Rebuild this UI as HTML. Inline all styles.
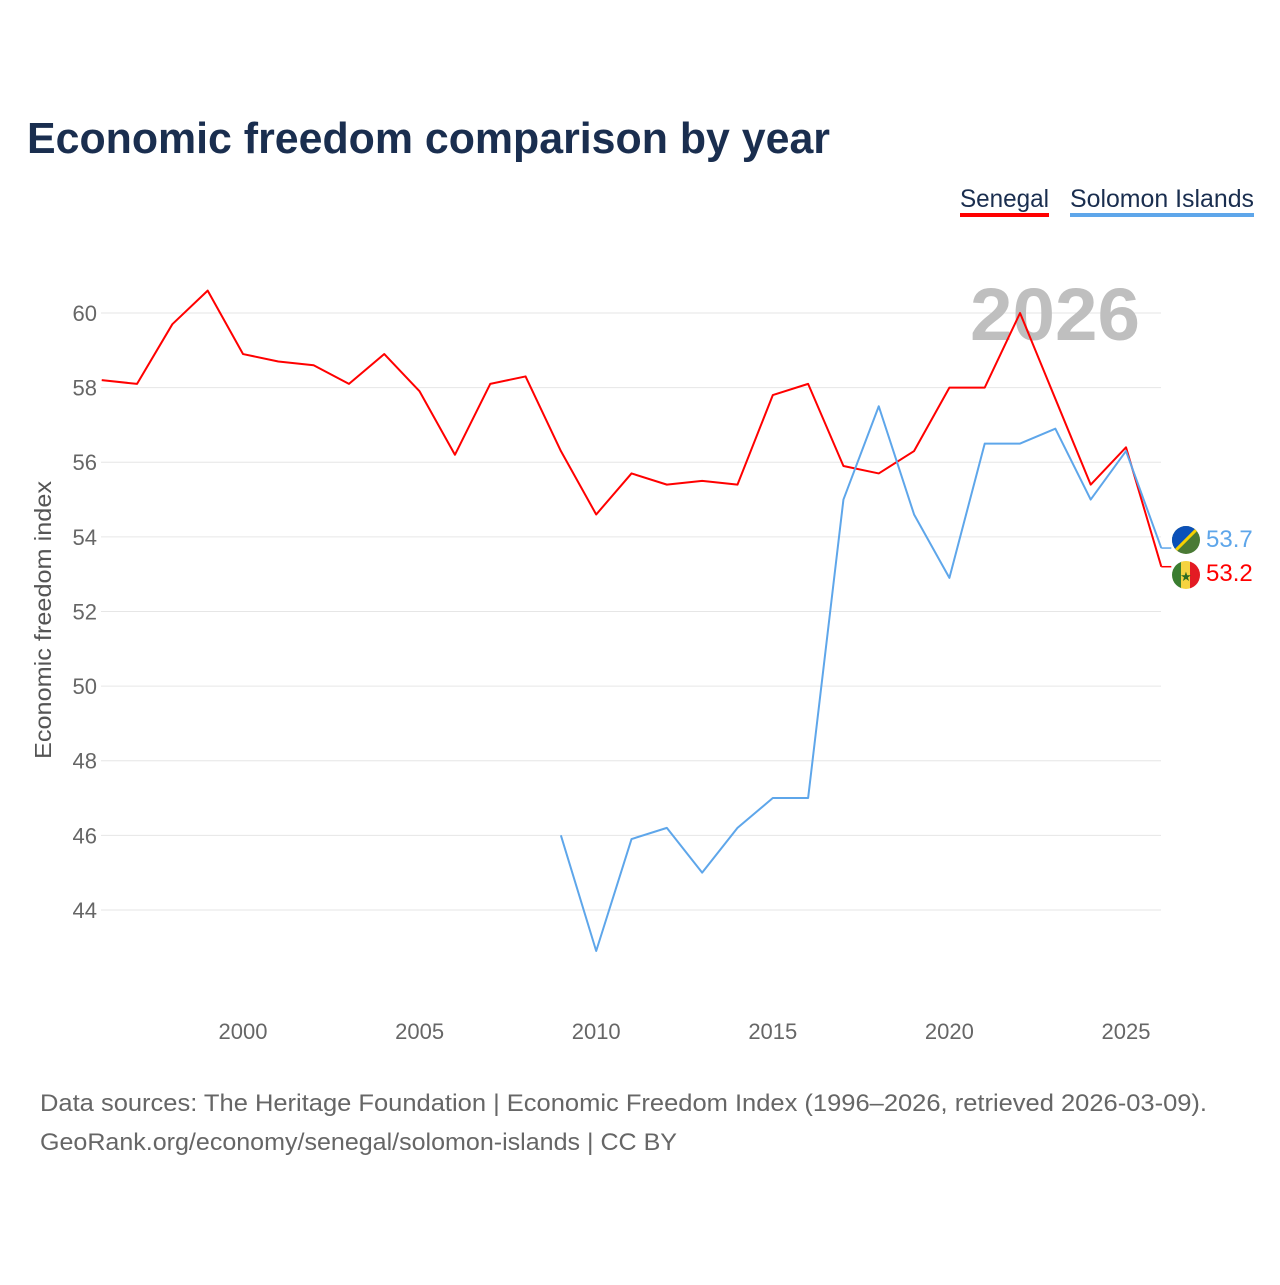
<!DOCTYPE html>
<html><head><meta charset="utf-8"><style>
body{margin:0;background:#fff;font-family:"Liberation Sans",sans-serif}
</style></head><body>
<svg width="1280" height="1280" viewBox="0 0 1280 1280" xmlns="http://www.w3.org/2000/svg">
<text x="27" y="153" font-size="44" font-weight="bold" fill="#1a2e4f" textLength="803" lengthAdjust="spacingAndGlyphs">Economic freedom comparison by year</text>
<g>
<text x="960" y="207" font-size="25" fill="#1a2e4f" textLength="89" lengthAdjust="spacingAndGlyphs">Senegal</text>
<rect x="960" y="213" width="89" height="4" fill="#ff0000"/>
<text x="1070" y="207" font-size="25" fill="#1a2e4f" textLength="184" lengthAdjust="spacingAndGlyphs">Solomon Islands</text>
<rect x="1070" y="213" width="184" height="4" fill="#5ea6ea"/>
</g>
<g id="grid"></g>
<text x="1055" y="340" font-size="74" font-weight="bold" fill="#bfbfbf" text-anchor="middle" textLength="170" lengthAdjust="spacingAndGlyphs">2026</text>
<g id="yticks"></g>
<g id="xticks"></g>
<text transform="translate(51,620) rotate(-90)" font-size="23" fill="#555" text-anchor="middle" textLength="278" lengthAdjust="spacingAndGlyphs">Economic freedom index</text>
<g id="series"></g>
<g>
<clipPath id="c1"><circle cx="1186" cy="540" r="14"/></clipPath>
<g clip-path="url(#c1)"><rect x="1172" y="526" width="28" height="28" fill="#4a7a35"/><polygon points="1172,526 1200,526 1172,554" fill="#0b50b8"/><line x1="1200" y1="526" x2="1172" y2="554" stroke="#f5d100" stroke-width="3"/></g>
</g>
<g>
<clipPath id="c2"><circle cx="1186" cy="575" r="14"/></clipPath>
<g clip-path="url(#c2)"><rect x="1172" y="561" width="10" height="28" fill="#3a7d30"/><rect x="1181" y="561" width="10" height="28" fill="#f5d340"/><rect x="1190" y="561" width="10" height="28" fill="#e31b23"/><text x="1186" y="581" font-size="13" text-anchor="middle" fill="#2c6b22">★</text></g>
</g>
<text x="1206" y="547" font-size="24" fill="#5ea6ea">53.7</text>
<text x="1206" y="581" font-size="24" fill="#ff0000">53.2</text>
<text x="40" y="1111" font-size="24" fill="#666" textLength="1167" lengthAdjust="spacingAndGlyphs">Data sources: The Heritage Foundation | Economic Freedom Index (1996–2026, retrieved 2026-03-09).</text>
<text x="40" y="1150" font-size="24" fill="#666" textLength="637" lengthAdjust="spacingAndGlyphs">GeoRank.org/economy/senegal/solomon-islands | CC BY</text>
</svg>
<script>
const years=[1996,1997,1998,1999,2000,2001,2002,2003,2004,2005,2006,2007,2008,2009,2010,2011,2012,2013,2014,2015,2016,2017,2018,2019,2020,2021,2022,2023,2024,2025,2026];
const senegal=[58.2,58.1,59.7,60.6,58.9,58.7,58.6,58.1,58.9,57.9,56.2,58.1,58.3,56.3,54.6,55.7,55.4,55.5,55.4,57.8,58.1,55.9,55.7,56.3,58.0,58.0,60.0,57.7,55.4,56.4,53.2];
const solomonYears=[2009,2010,2011,2012,2013,2014,2015,2016,2017,2018,2019,2020,2021,2022,2023,2024,2025,2026];
const solomon=[46.0,42.9,45.9,46.2,45.0,46.2,47.0,47.0,55.0,57.5,54.6,52.9,56.5,56.5,56.9,55.0,56.3,53.7];
const yTicks=[44,46,48,50,52,54,56,58,60];
const xTicks=[2000,2005,2010,2015,2020,2025];
const NS="http://www.w3.org/2000/svg";
const X=y=>243+(y-2000)*35.32;
const Y=v=>313+(60-v)*37.31;
function mk(tag,attrs,parent){const e=document.createElementNS(NS,tag);for(const k in attrs)e.setAttribute(k,attrs[k]);parent.appendChild(e);return e;}
const grid=document.getElementById('grid'),yt=document.getElementById('yticks'),xt=document.getElementById('xticks'),ser=document.getElementById('series');
yTicks.forEach(t=>{
 const l=mk('line',{x1:101,x2:1161,y1:Y(t),y2:Y(t),stroke:'#e6e6e6','stroke-width':1},grid);
 
 
 const tx=mk('text',{x:97,y:Y(t)+8,'font-size':22,fill:'#666','text-anchor':'end'},yt);
 tx.textContent=t;
 
 
});
xTicks.forEach(t=>{
 const tx=mk('text',{x:X(t),y:1039,'font-size':22,fill:'#666','text-anchor':'middle'},xt);
 tx.textContent=t;
 
 
});
function line(xs,vs,color,name,endY){
 let pts=xs.map((y,i)=>X(y)+','+Y(vs[i]));
 const p=mk('polyline',{points:pts.join(' '),fill:'none',stroke:color,'stroke-width':2,'stroke-linejoin':'round'},ser);
 
 
 const lx=X(xs[xs.length-1]),ly=Y(vs[vs.length-1]);
 const h=mk('polyline',{points:lx+','+ly+' '+lx+','+endY+' '+(lx+10)+','+endY,fill:'none',stroke:color,'stroke-width':1.5},ser);
 
 
}
line(years,senegal,'#ff0000','line-senegal',Y(senegal[senegal.length-1]));
line(solomonYears,solomon,'#5ea6ea','line-solomon-islands',Y(solomon[solomon.length-1]));
</script>
</body></html>
